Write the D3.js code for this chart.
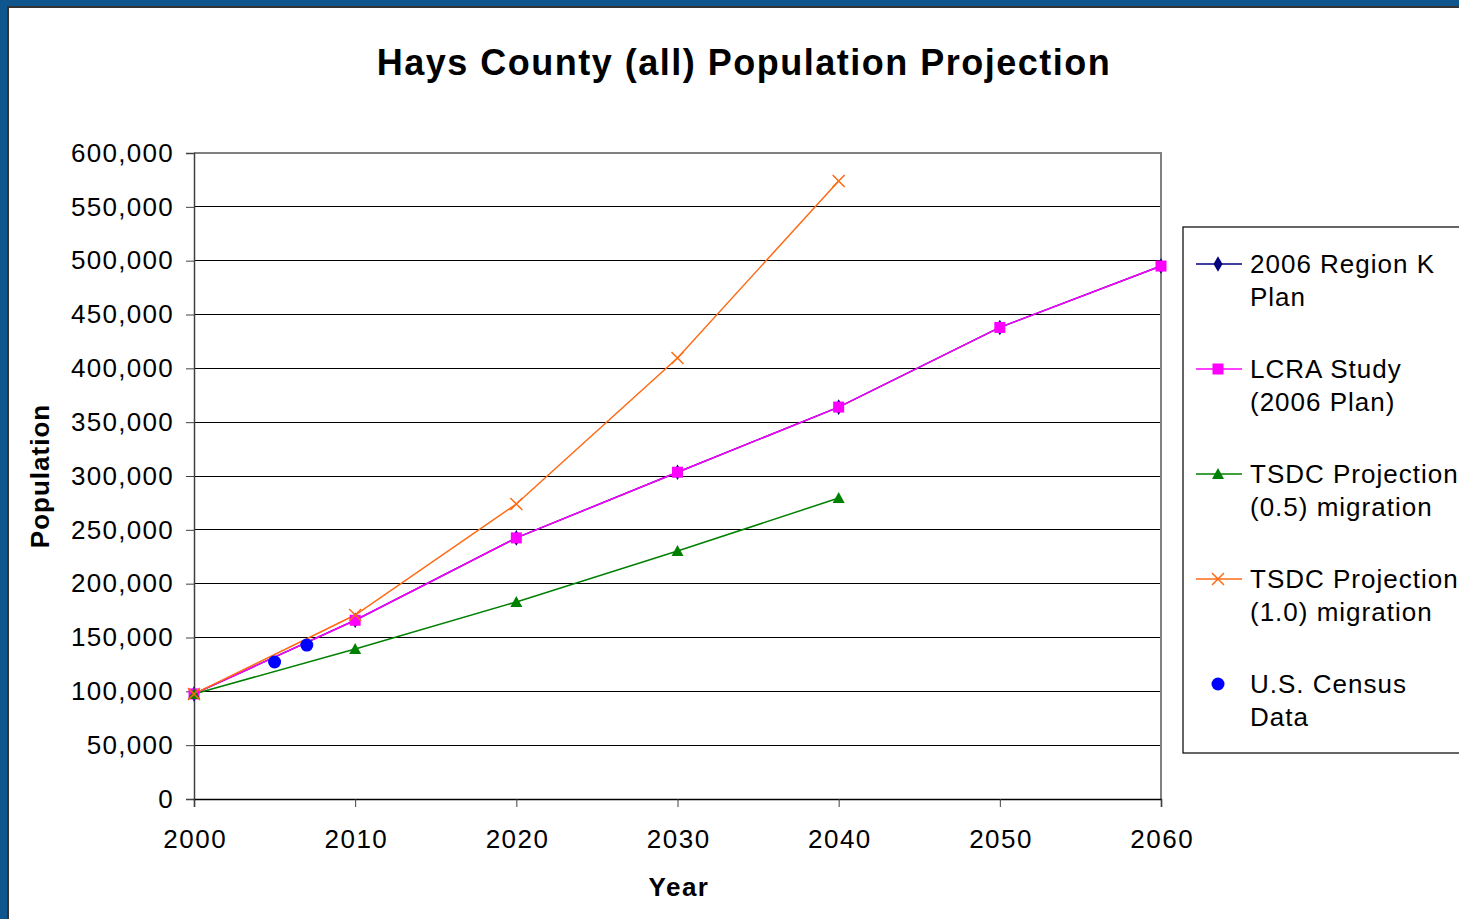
<!DOCTYPE html>
<html><head><meta charset="utf-8">
<script src="https://cdn.jsdelivr.net/npm/d3@7"></script>
<style>html,body{margin:0;padding:0;background:#fff;}svg{display:block;}</style>
</head><body>
<script>
const years = [2000, 2010, 2020, 2030, 2040, 2050, 2060];
const regionK = [97589, 166000, 242500, 303500, 364000, 438000, 495000];
const lcra = [97589, 166000, 242500, 303500, 364000, 438000, 495000];
const tsdcYears = [2000, 2010, 2020, 2030, 2040];
const tsdc05 = [97589, 139300, 183000, 230300, 279500];
const tsdc10 = [97589, 170900, 274000, 409600, 574000];
const censusYears = [2005, 2007];
const census = [127245, 143000];
const yTicks = [0, 50000, 100000, 150000, 200000, 250000, 300000, 350000, 400000, 450000, 500000, 550000, 600000];
const xTicks = [2000, 2010, 2020, 2030, 2040, 2050, 2060];
const legendLabels = [["2006 Region K", "Plan"], ["LCRA Study", "(2006 Plan)"], ["TSDC Projection", "(0.5) migration"], ["TSDC Projection", "(1.0) migration"], ["U.S. Census", "Data"]];

const W = 1459, H = 919;
const FONT = "'Liberation Sans', Arial, sans-serif";
const svg = d3.select("body").append("svg").attr("width", W).attr("height", H)
  .style("font-family", FONT);

// frame
svg.append("rect").attr("x", 0).attr("y", 0).attr("width", W).attr("height", H).attr("fill", "#10568e");
svg.append("rect").attr("x", 8).attr("y", 7).attr("width", W).attr("height", H).attr("fill", "#fff")
  .attr("stroke", "#333").attr("stroke-width", 2);

const x = d3.scaleLinear().domain([2000, 2060]).range([194, 1161]);
const y = d3.scaleLinear().domain([0, 600000]).range([799, 153]);

// gridlines
svg.append("g").selectAll("line").data(yTicks.slice(1, -1)).join("line")
  .attr("x1", 194).attr("x2", 1161).attr("y1", d => y(d)).attr("y2", d => y(d))
  .attr("stroke", "#000").attr("stroke-width", 1).attr("shape-rendering", "crispEdges");
// plot border top/right
svg.append("path").attr("d", `M194,${y(600000)}H1161V799`).attr("fill", "none")
  .attr("stroke", "#808080").attr("stroke-width", 1.5).attr("shape-rendering", "crispEdges");

const fmt = d3.format(",");
const yAxis = svg.append("g").attr("transform", "translate(194,0)")
  .call(d3.axisLeft(y).tickValues(yTicks).tickFormat(fmt).tickSize(8).tickPadding(12));
yAxis.select(".domain").attr("stroke", "#404040").attr("stroke-width", 1.5);
yAxis.selectAll(".tick line").attr("stroke", "#404040");
yAxis.selectAll("text").attr("font-size", 26).attr("fill", "#000").attr("font-family", FONT)
  .attr("letter-spacing", "1.3px");

const xAxis = svg.append("g").attr("transform", "translate(0,799)")
  .call(d3.axisBottom(x).tickValues(xTicks).tickFormat(d3.format("d")).tickSize(8).tickPadding(23));
xAxis.select(".domain").attr("stroke", "#000").attr("stroke-width", 1.5);
xAxis.selectAll(".tick line").attr("stroke", "#404040");
xAxis.selectAll("text").attr("font-size", 26).attr("fill", "#000").attr("font-family", FONT)
  .attr("letter-spacing", "1.5px").attr("dx", "0.75");

// titles
svg.append("text").attr("x", 744).attr("y", 75).attr("text-anchor", "middle")
  .attr("font-size", 36).attr("font-weight", "bold").attr("letter-spacing", "1.5px")
  .text("Hays County (all) Population Projection");
svg.append("text").attr("x", 679).attr("y", 896).attr("text-anchor", "middle")
  .attr("font-size", 26).attr("font-weight", "bold").attr("letter-spacing", "1.5px").text("Year");
svg.append("text").attr("transform", "translate(49,476) rotate(-90)").attr("text-anchor", "middle")
  .attr("font-size", 26).attr("font-weight", "bold").attr("letter-spacing", "1px").text("Population");

const line = d3.line().x(d => x(d[0])).y(d => y(d[1]));
const zip = (a, b) => a.map((v, i) => [v, b[i]]);

const series = [
  {data: zip(years, regionK), color: "#000080", marker: "diamond"},
  {data: zip(years, lcra), color: "#ff00ff", marker: "square"},
  {data: zip(tsdcYears, tsdc05), color: "#008000", marker: "triangle"},
  {data: zip(tsdcYears, tsdc10), color: "#ff6a13", marker: "x"},
];

function drawMarker(g, type, color, cx, cy) {
  if (type === "diamond") g.append("path").attr("d", d3.symbol(d3.symbolDiamond, 70)()).attr("transform", `translate(${cx},${cy})`).attr("fill", color);
  else if (type === "square") g.append("rect").attr("x", cx - 5.5).attr("y", cy - 5.5).attr("width", 11).attr("height", 11).attr("fill", color);
  else if (type === "triangle") g.append("path").attr("d", `M${cx},${cy - 6}L${cx + 6},${cy + 5}L${cx - 6},${cy + 5}Z`).attr("fill", color);
  else if (type === "x") g.append("path").attr("d", `M${cx - 6},${cy - 6}L${cx + 6},${cy + 6}M${cx - 6},${cy + 6}L${cx + 6},${cy - 6}`).attr("stroke", color).attr("stroke-width", 1.5);
  else if (type === "circle") g.append("circle").attr("cx", cx).attr("cy", cy).attr("r", 6.5).attr("fill", color);
}

const gS = svg.append("g");
series.forEach(s => {
  gS.append("path").datum(s.data).attr("d", line).attr("fill", "none").attr("stroke", s.color).attr("stroke-width", 1.5);
});
series.forEach(s => {
  s.data.forEach(d => drawMarker(gS, s.marker, s.color, x(d[0]), y(d[1])));
});
zip(censusYears, census).forEach(d => drawMarker(gS, "circle", "#0000ff", x(d[0]), y(d[1])));

// legend
const lg = svg.append("g");
lg.append("rect").attr("x", 1183).attr("y", 227).attr("width", 300).attr("height", 526)
  .attr("fill", "#fff").attr("stroke", "#000").attr("stroke-width", 1.2);
const legItems = [
  {color: "#000080", marker: "diamond", line: true},
  {color: "#ff00ff", marker: "square", line: true},
  {color: "#008000", marker: "triangle", line: true},
  {color: "#ff6a13", marker: "x", line: true},
  {color: "#0000ff", marker: "circle", line: false},
];
legItems.forEach((it, i) => {
  const cy = 264 + i * 105;
  if (it.line) lg.append("line").attr("x1", 1196).attr("x2", 1242).attr("y1", cy).attr("y2", cy).attr("stroke", it.color).attr("stroke-width", 1.5);
  drawMarker(lg, it.marker, it.color, 1218, cy);
  const t = lg.append("text").attr("x", 1250).attr("y", cy + 9).attr("font-size", 26).attr("fill", "#000")
    .attr("letter-spacing", "1px");
  t.append("tspan").attr("x", 1250).text(legendLabels[i][0]);
  t.append("tspan").attr("x", 1250).attr("dy", 33).text(legendLabels[i][1]);
});
</script>
</body></html>
